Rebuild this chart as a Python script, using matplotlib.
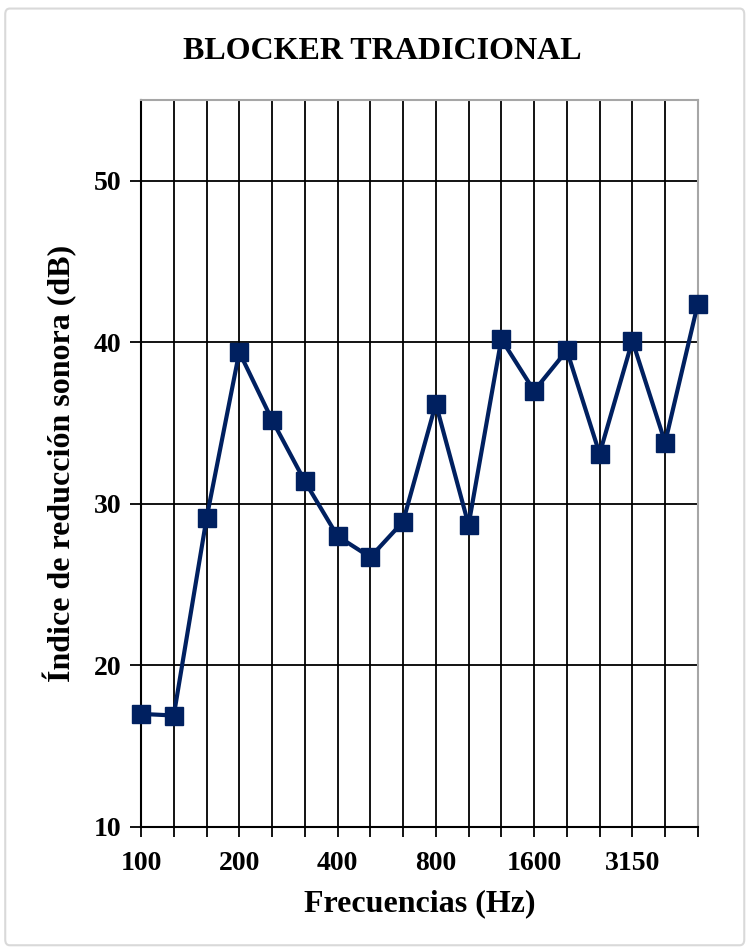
import matplotlib.pyplot as plt
from matplotlib.patches import FancyBboxPatch
import numpy as np

frecuencias = ['100', '125', '160', '200', '250', '315', '400', '500', '630',
               '800', '1000', '1250', '1600', '2000', '2500', '3150', '4000', '5000']
indice_db = [17.0, 16.9, 29.1, 39.4, 35.2, 31.4, 28.0, 26.7, 28.9,
             36.2, 28.7, 40.2, 37.0, 39.5, 33.1, 40.1, 33.8, 42.4]
etiquetas_y = [10, 20, 30, 40, 50]

plt.rcParams['font.family'] = ['Liberation Serif', 'DejaVu Serif']
plt.rcParams['font.weight'] = 'bold'

fig = plt.figure(figsize=(7.48, 9.5), dpi=100)
ax = fig.add_axes([0.1885, 0.1295, 0.933 - 0.1885, 0.8947 - 0.1295])

# borde exterior del grafico
borde = FancyBboxPatch((0.007, 0.005), 0.988, 0.986,
                       boxstyle='round,pad=0,rounding_size=0.006',
                       transform=fig.transFigure, fill=False,
                       edgecolor='#d9d9d9', linewidth=1.5)
fig.patches.append(borde)

x = np.arange(len(frecuencias))
ax.plot(x, indice_db, color='#002060', linewidth=3, marker='s',
        markersize=13, markeredgecolor='#002060', zorder=5, clip_on=False)

ax.set_xlim(0, len(frecuencias) - 1)
ax.set_ylim(10, 55)
ax.set_xticks(x)
ax.set_xticklabels([f if i % 3 == 0 else '' for i, f in enumerate(frecuencias)])
ax.set_yticks(etiquetas_y)

ax.grid(True, color='black', linewidth=1.3)
ax.set_axisbelow(True)

ax.tick_params(axis='x', direction='out', length=7, width=1.3, color='black',
               labelsize=20, pad=10)
ax.tick_params(axis='y', direction='out', length=8, width=1.3, color='black',
               labelsize=20, pad=6)

for lado in ['left', 'bottom']:
    ax.spines[lado].set_color('black')
    ax.spines[lado].set_linewidth(1.5)
for lado in ['top', 'right']:
    ax.spines[lado].set_color('#a6a6a6')
    ax.spines[lado].set_linewidth(1.5)

ax.set_xlabel('Frecuencias (Hz)', fontsize=23, fontweight='bold', labelpad=10)
ax.set_ylabel('Índice de reducción sonora (dB)', fontsize=23, fontweight='bold', labelpad=12)
fig.text(0.511, 0.946, 'BLOCKER TRADICIONAL', ha='center', va='center',
         fontsize=23, fontweight='bold')

fig.savefig('out.png', dpi=100)
